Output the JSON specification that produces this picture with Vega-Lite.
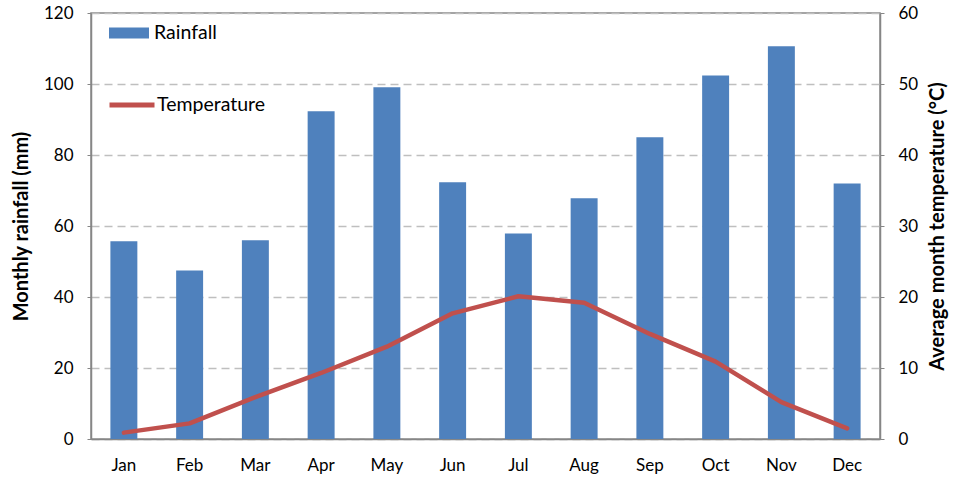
{
  "$schema": "https://vega.github.io/schema/vega-lite/v6.json",
  "width": 789,
  "height": 426,
  "autosize": {"type": "none"},
  "padding": {"left": 91, "top": 13, "right": 85, "bottom": 43},
  "background": "white",
  "config": {
    "font": "Lato",
    "view": {"stroke": "#868686", "strokeWidth": 1.5},
    "axis": {"labelFont": "Lato", "titleFont": "Lato", "labelFontSize": 17, "labelColor": "#000", "titleColor": "#000", "domainColor": "#868686", "domainWidth": 1.5}
  },
  "data": {
    "values": [
      {"month": "Jan", "rain": 55.7, "temp": 0.9},
      {"month": "Feb", "rain": 47.5, "temp": 2.2},
      {"month": "Mar", "rain": 56.0, "temp": 5.9},
      {"month": "Apr", "rain": 92.3, "temp": 9.3},
      {"month": "May", "rain": 99.1, "temp": 13.0},
      {"month": "Jun", "rain": 72.3, "temp": 17.7},
      {"month": "Jul", "rain": 57.9, "temp": 20.1},
      {"month": "Aug", "rain": 67.8, "temp": 19.2},
      {"month": "Sep", "rain": 85.0, "temp": 14.8},
      {"month": "Oct", "rain": 102.4, "temp": 10.9},
      {"month": "Nov", "rain": 110.6, "temp": 5.2},
      {"month": "Dec", "rain": 72.0, "temp": 1.5}
    ]
  },
  "encoding": {
    "x": {
      "field": "month", "type": "nominal", "sort": null,
      "scale": {"paddingInner": 0.59, "paddingOuter": 0.295},
      "axis": {"title": null, "labelAngle": 0, "ticks": false, "labelPadding": 18, "domain": true}
    }
  },
  "layer": [
    {
      "mark": {"type": "bar", "color": "#4F81BD"},
      "encoding": {
        "y": {
          "field": "rain", "type": "quantitative",
          "scale": {"domain": [0, 120], "nice": false},
          "axis": {"title": "Monthly rainfall (mm)", "titleFontSize": 20, "titleFontWeight": "bold", "titlePadding": 12,
                   "values": [0, 20, 40, 60, 80, 100, 120], "grid": true, "gridColor": "#BFBFBF", "gridDash": [8, 5], "gridWidth": 1.5,
                   "tickSize": 4, "tickColor": "#868686", "labelPadding": 14}
        },
        "fill": {
          "datum": "Rainfall", "type": "nominal",
          "scale": {"range": ["#4F81BD"]},
          "legend": {"title": null, "orient": "none", "legendX": 18, "legendY": 0, "padding": 0,
                     "symbolType": "M-1,-0.27H1V0.27H-1Z", "symbolSize": 1600, "symbolStrokeWidth": 0,
                     "labelFontSize": 19.5, "labelFont": "Lato", "labelColor": "#000", "labelOffset": 5}
        }
      }
    },
    {
      "mark": {"type": "line", "color": "#C0504D", "strokeWidth": 4.5, "strokeCap": "round", "strokeJoin": "round"},
      "encoding": {
        "y": {
          "field": "temp", "type": "quantitative",
          "scale": {"domain": [0, 60], "nice": false},
          "axis": {"orient": "right", "title": "Average month temperature (°C)", "titleFontSize": 20, "titleFontWeight": "bold",
                   "titleAngle": 270, "titlePadding": 30,
                   "values": [0, 10, 20, 30, 40, 50, 60], "grid": false, "tickSize": 4, "tickColor": "#868686", "labelPadding": 14}
        },
        "stroke": {
          "datum": "Temperature", "type": "nominal",
          "scale": {"range": ["#C0504D"]},
          "legend": {"title": null, "orient": "none", "legendX": 16, "legendY": 67, "padding": 0,
                     "symbolType": "stroke", "symbolSize": 2025, "symbolStrokeWidth": 5,
                     "labelFontSize": 19.5, "labelFont": "Lato", "labelColor": "#000", "labelOffset": 0}
        }
      }
    }
  ],
  "resolve": {"scale": {"y": "independent", "fill": "independent", "stroke": "independent"}}
}
